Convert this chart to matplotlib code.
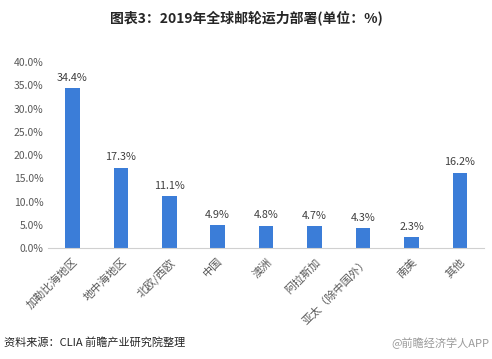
import matplotlib
matplotlib.use("Agg")
import matplotlib.pyplot as plt

plt.rcParams['font.family'] = ['Noto Sans CJK SC', 'DejaVu Sans']

TITLE = "图表3：2019年全球邮轮运力部署(单位：%)"
regions = ["加勒比海地区", "地中海地区", "北欧/西欧", "中国", "澳洲",
           "阿拉斯加", "亚太（除中国外）", "南美", "其他"]
shares = [34.4, 17.3, 11.1, 4.9, 4.8, 4.7, 4.3, 2.3, 16.2]
yticks = [0, 5, 10, 15, 20, 25, 30, 35, 40]

BAR = "#3b7dd8"
GREY = "#595959"

fig = plt.figure(figsize=(4.92, 3.59), dpi=100)
ax = fig.add_axes([0.098, 0.309, 0.886, 0.518])

x = range(len(regions))
bars = ax.bar(x, shares, width=0.3, color=BAR)
for b, v in zip(bars, shares):
    ax.annotate(f"{v:.1f}%", (b.get_x() + b.get_width() / 2, v),
                xytext=(0, 4), textcoords="offset points",
                ha="center", va="bottom", fontsize=7.8, color="#404040")

ax.set_xlim(-0.5, len(regions) - 0.5)
ax.set_ylim(0, 40)
ax.set_yticks(yticks)
ax.set_yticklabels([f"{t:.1f}%" for t in yticks], fontsize=7.5, color=GREY)
ax.set_xticks(list(x))
ax.set_xticklabels(regions, rotation=45, ha="right", rotation_mode="anchor",
                   fontsize=8, color=GREY)
ax.tick_params(axis="both", length=0)
ax.tick_params(axis="x", pad=6)
for s in ["top", "right", "left"]:
    ax.spines[s].set_visible(False)
ax.spines["bottom"].set_color("#d0d0d0")

fig.text(0.5, 0.952, TITLE, ha="center", va="center", fontsize=10,
         fontweight="bold", color="#262626")
fig.text(0.008, 0.045, "资料来源：CLIA 前瞻产业研究院整理", ha="left",
         va="center", fontsize=8, color="#262626")
fig.text(0.995, 0.045, "@前瞻经济学人APP", ha="right", va="center",
         fontsize=8, color="#9a9a9a")

fig.savefig("out.png", dpi=100)
